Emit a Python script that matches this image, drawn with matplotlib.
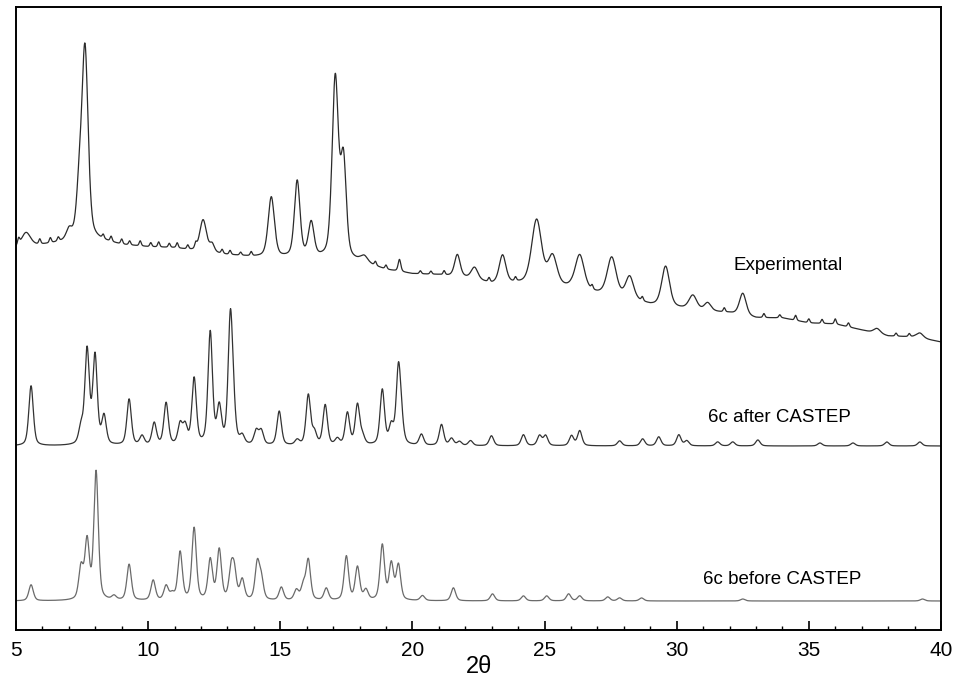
import numpy as np
import matplotlib
matplotlib.use('Agg')
import matplotlib.pyplot as plt
from matplotlib.ticker import MultipleLocator

# Peak tables (2theta, height in px, FWHM in deg)
exp_pos = [5.38, 7.01, 7.39, 7.61, 12.08, 12.42, 14.66, 15.64, 16.17, 17.08, 17.39,
           18.18, 19.51, 21.70, 22.35, 23.41, 24.70, 25.30, 26.33, 27.54, 28.22,
           29.58, 30.61, 31.17, 32.50, 37.58, 39.20]
exp_h = [14, 10, 44, 190, 32, 8, 60, 76, 34, 180, 96,
         6, 12, 22, 12, 28, 66, 30, 34, 38, 22,
         40, 14, 8, 22, 5, 5]
exp_w = [0.4, 0.25, 0.25, 0.28, 0.3, 0.2, 0.28, 0.25, 0.25, 0.28, 0.25,
         0.3, 0.12, 0.25, 0.3, 0.3, 0.45, 0.4, 0.4, 0.4, 0.35,
         0.35, 0.35, 0.3, 0.3, 0.3, 0.3]
# small jagged features on the experimental background
exp_small_pos = [5.1, 5.9, 6.3, 6.6, 8.3, 8.6, 9.0, 9.3, 9.7, 10.1, 10.4, 10.8, 11.1,
                 11.5, 11.8, 12.8, 13.1, 13.5, 13.9, 18.6, 19.0, 20.3, 20.7, 21.2,
                 22.9, 23.9, 26.8, 28.7, 31.8, 33.3, 33.9, 34.5, 35.0, 35.5, 36.0,
                 36.5, 38.3, 38.8]
exp_small_h = [6, 5, 5, 4, 4, 5, 5, 4, 5, 4, 5, 4, 5,
               4, 5, 4, 4, 3, 4, 4, 4, 3, 3, 4,
               4, 4, 4, 4, 4, 4, 3, 5, 4, 4, 5,
               4, 3, 3]
exp_base_x = list(range(5, 41))
exp_base_y = [382, 385, 388, 390, 385, 383, 382, 378, 375, 373, 372, 372, 370, 368, 360, 356,
              355, 352, 346, 346, 342, 342, 336, 332, 325, 322, 319, 317, 312, 312, 307, 306,
              300, 294, 293, 288]

after_pos = [5.57, 7.46, 7.69, 7.99, 8.33, 9.28, 9.77, 10.23, 10.68, 11.21, 11.40, 11.74,
             12.35, 12.69, 13.11, 13.22, 13.56, 14.09, 14.28, 14.96, 15.64, 16.06, 16.29,
             16.70, 17.16, 17.54, 17.92, 18.11, 18.86, 19.20, 19.47, 19.58, 20.34, 21.10,
             21.48, 21.78, 22.20, 22.99, 24.20, 24.81, 25.04, 26.02, 26.33, 27.84, 28.71,
             29.32, 30.08, 30.38, 31.55, 32.12, 33.07, 35.42, 36.67, 37.95, 39.20]
after_h = [60, 16, 94, 88, 28, 46, 9, 22, 42, 20, 18, 66,
           112, 36, 122, 28, 8, 14, 14, 34, 5, 50, 12,
           40, 6, 32, 40, 8, 55, 18, 74, 18, 11, 21,
           7, 4, 5, 10, 11, 10, 10, 10, 15, 5, 7,
           9, 11, 5, 4, 4, 6, 3, 3, 4, 4]
after_base = 184

before_pos = [5.57, 7.46, 7.69, 8.03, 8.71, 9.28, 10.19, 10.68, 10.91, 11.21, 11.74,
              12.35, 12.69, 13.14, 13.26, 13.56, 14.13, 14.28, 15.04, 15.61, 15.87,
              16.06, 16.74, 17.50, 17.92, 18.24, 18.86, 19.20, 19.47, 20.38, 21.55,
              23.03, 24.20, 25.08, 25.91, 26.33, 27.39, 27.84, 28.67, 32.50, 39.30]
before_h = [16, 32, 58, 128, 4, 36, 20, 14, 6, 48, 72,
            40, 50, 28, 26, 20, 36, 20, 13, 10, 14,
            40, 12, 44, 33, 10, 55, 36, 35, 5, 13,
            7, 5, 5, 7, 5, 4, 3, 3, 2, 2]
before_base = 29

labels = ['Experimental', '6c after CASTEP', '6c before CASTEP']


def profile(x, pos, h, w, eta=0.5):
    y = np.zeros_like(x)
    for c, a, fw in zip(pos, h, w):
        d = (x - c) / fw
        y += a * (eta / (1 + 4 * d ** 2) + (1 - eta) * np.exp(-4 * np.log(2) * d ** 2))
    return y


x = np.arange(5, 40.0001, 0.01)
y_exp = (np.interp(x, exp_base_x, exp_base_y)
         + profile(x, exp_pos, exp_h, exp_w, 0.4)
         + profile(x, exp_small_pos, exp_small_h, [0.09] * len(exp_small_pos), 0.3))
y_after = after_base + profile(x, after_pos, after_h, [0.2] * len(after_pos), 0.45)
y_before = before_base + profile(x, before_pos, before_h, [0.2] * len(before_pos), 0.45)

plt.rcParams['font.family'] = ['Liberation Sans', 'DejaVu Sans']

fig = plt.figure(figsize=(9.57, 6.82), dpi=100)
ax = fig.add_axes([16 / 957, 52 / 682, 925 / 957, 623 / 682])

ax.plot(x, y_exp, color='#2b2b2b', lw=0.9)
ax.plot(x, y_after, color='#333333', lw=0.9)
ax.plot(x, y_before, color='#6a6a6a', lw=0.9)

ax.text(34.2, 365, labels[0], ha='center', va='center', fontsize=13.5)
ax.text(33.9, 213, labels[1], ha='center', va='center', fontsize=13.5)
ax.text(34.0, 50, labels[2], ha='center', va='center', fontsize=13.5)

ax.set_xlim(5, 40)
ax.set_ylim(0, 623)
ax.xaxis.set_major_locator(MultipleLocator(5))
ax.xaxis.set_minor_locator(MultipleLocator(1))
ax.tick_params(axis='x', which='both', direction='in', top=False, labelsize=15, pad=8)
ax.tick_params(axis='x', which='major', length=6.5, width=1.2)
ax.tick_params(axis='x', which='minor', length=3, width=1.0)
ax.set_yticks([])
for s in ax.spines.values():
    s.set_linewidth(1.4)
ax.set_xlabel('2θ', fontsize=17, labelpad=-3)

fig.savefig('out.png', dpi=100)
